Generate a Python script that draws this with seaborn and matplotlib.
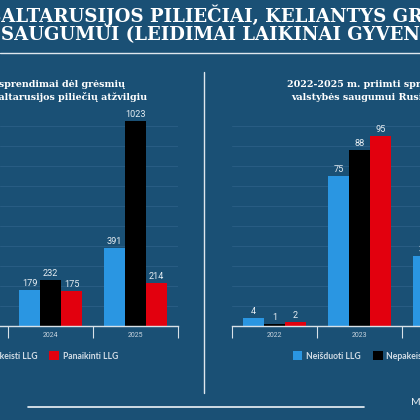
import numpy as np
import pandas as pd
import matplotlib
matplotlib.use("Agg")
import matplotlib.pyplot as plt
from matplotlib.lines import Line2D
import seaborn as sns

# data (only what is visible in the crop)
series = ["Neišduoti LLG", "Nepakeisti LLG", "Panaikinti LLG"]
colors = ["#2a96e2", "#000000", "#e2000e"]

by_years = ["2024", "2025"]
by_neisduoti = [179, 391]
by_nepakeisti = [232, 1023]
by_panaikinti = [175, 214]

ru_years = ["2022", "2023", "2024"]
ru_neisduoti = [4, 75, 35]
ru_nepakeisti = [1, 88, None]
ru_panaikinti = [2, 95, None]

title1 = "BALTARUSIJOS PILIEČIAI, KELIANTYS GRĖSMĘ"
title2 = "VALSTYBĖS SAUGUMUI (LEIDIMAI LAIKINAI GYVENTI)"
sub_left = ["2022-2025 m. priimti sprendimai dėl grėsmių",
            "valstybės saugumui Baltarusijos piliečių atžvilgiu"]
sub_right = ["2022-2025 m. priimti sprendimai dėl grėsmių",
             "valstybės saugumui Rusijos piliečių atžvilgiu"]
source = "Migracijos departamentas"


def long_form(years, a, b, c):
    rows = []
    for i, y in enumerate(years):
        for s, v in zip(series, [a[i], b[i], c[i]]):
            if v is not None:
                rows.append({"metai": y, "tipas": s, "kiekis": v})
    return pd.DataFrame(rows)


df_by = long_form(by_years, by_neisduoti, by_nepakeisti, by_panaikinti)
df_ru = long_form(ru_years, ru_neisduoti, ru_nepakeisti, ru_panaikinti)

bg = "#1a5075"
grid_c = "#295d84"
axis_c = "#d8e1e8"
txt_c = "#e6edf2"

sns.set_theme(style="dark")
plt.rcParams["font.family"] = ["Roboto", "DejaVu Sans"]

W = H = 420
fig = plt.figure(figsize=(4.2, 4.2), dpi=100, facecolor=bg)


def fx(px):
    return px / W


def fy(py):
    return 1 - py / H


base = 326
ax_l = fig.add_axes([0, fy(base), fx(178), 210 / H])
ax_r = fig.add_axes([fx(232), fy(base), fx(255), 210 / H])

setup = [
    (ax_l, df_by, by_years, 1050, 100, (-0.5 - 8.3 / 85, 1.5)),
    (ax_r, df_ru, ru_years, 105, 10, (-0.5, 2.5)),
]

for ax, df, years, top, step, xl in setup:
    ax.set_facecolor(bg)
    sns.barplot(data=df, x="metai", y="kiekis", hue="tipas", order=years,
                hue_order=series, palette=colors, width=0.74, gap=0,
                errorbar=None, saturation=1, linewidth=0, ax=ax)
    for cont in ax.containers:
        ax.bar_label(cont, padding=1.5, fontsize=6.6, color=txt_c)
    ax.set_ylim(0, top)
    ax.set_xlim(*xl)
    ax.set_yticks(np.arange(step, top, step))
    ax.yaxis.grid(True, color=grid_c, linewidth=0.7)
    ax.xaxis.grid(False)
    ax.tick_params(axis="y", left=False, labelleft=False)
    ax.set_xticks(range(len(years)))
    ax.set_xticks(np.arange(-0.5, len(years), 1), minor=True)
    ax.tick_params(axis="x", which="major", length=0, pad=4,
                   labelsize=5, labelcolor="#c9d5df")
    ax.tick_params(axis="x", which="minor", bottom=True, length=8.5,
                   width=0.8, color=axis_c, direction="out")
    ax.set_xlabel("")
    ax.set_ylabel("")
    for s in ["top", "left", "right"]:
        ax.spines[s].set_visible(False)
    ax.spines["bottom"].set_color(axis_c)
    ax.spines["bottom"].set_linewidth(1)
    ax.set_axisbelow(True)

handles, labels = ax_l.get_legend_handles_labels()
ax_l.get_legend().remove()
ax_r.get_legend().remove()

leg_kw = dict(ncol=3, frameon=False, handlelength=1.1,
              handleheight=1.1, handletextpad=0.45, columnspacing=1.4,
              borderpad=0, borderaxespad=0,
              prop={"family": "Lato", "weight": "bold", "size": 6.2})
leg1 = fig.legend(handles, labels, loc="center right",
                  bbox_to_anchor=(fx(118), fy(356)), **leg_kw)
leg2 = fig.legend(handles, labels, loc="center left",
                  bbox_to_anchor=(fx(293), fy(356)), **leg_kw)
for leg in (leg1, leg2):
    for t in leg.get_texts():
        t.set_color("#d3dde6")

# title, shifted so the crop starts where the reference does
renderer = fig.canvas.get_renderer()
tkw = dict(family="DejaVu Serif", weight="bold", size=13.1, color="white")
probe = fig.text(0, 0, "B", **tkw)
w1 = probe.get_window_extent(renderer).width
probe.set_text("VALSTYBĖS ")
w2 = probe.get_window_extent(renderer).width
probe.remove()
fig.text(fx(-w1 + 1), fy(22.5), title1, ha="left", va="baseline", **tkw)
fig.text(fx(-w2 + 1), fy(40.5), title2, ha="left", va="baseline", **tkw)
fig.add_artist(Line2D([0, 1], [fy(53), fy(53)], color="#dfe7ee", lw=1))

skw = dict(family="DejaVu Serif", weight="bold", size=6.8, color="white",
           va="baseline")
fig.text(fx(125), fy(87), sub_left[0], ha="right", **skw)
fig.text(fx(147), fy(100), sub_left[1], ha="right", **skw)
fig.text(fx(287), fy(87), sub_right[0], ha="left", **skw)
fig.text(fx(291), fy(100), sub_right[1], ha="left", **skw)

fig.add_artist(Line2D([fx(204), fx(204)], [fy(72), fy(393)],
                      color="#dfe7ee", lw=1))
fig.add_artist(Line2D([fx(28), fx(364)], [fy(407), fy(407)],
                      color="#eef3f7", lw=1.2))
fig.text(fx(411), fy(405), source, ha="left", va="baseline",
         family="Lato", size=7.5, color="#e6edf2")

fig.savefig("out.png", dpi=100, facecolor=bg)
